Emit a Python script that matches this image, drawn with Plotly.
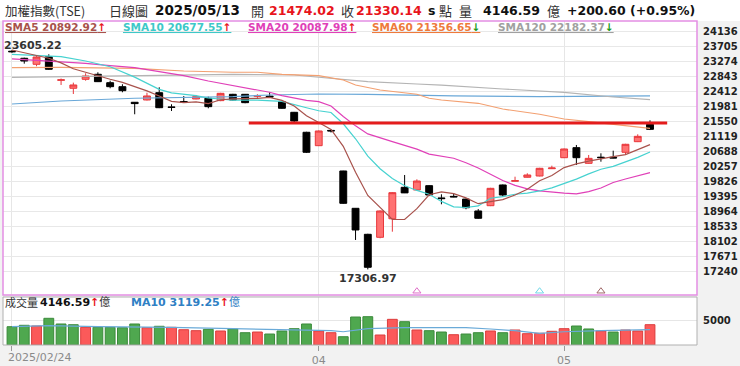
import plotly.graph_objects as go

W, H = 740, 366
FONT = "DejaVu Sans, Noto Sans CJK TC, sans-serif"
CJK = "Noto Sans CJK TC, sans-serif"

# ---------------- data ----------------
TICK_IDX = [0, 25, 45]
TICK_TEXT = ["2025/02/24", "04", "05"]

OPEN = [23575, 23372, 23199, 23418, 22740, 22510, 22768, 22912, 22671, 22556,
        22108, 22174, 22383, 21975, 22130, 22203, 22223, 22155, 22337, 22337,
        22280, 22285, 22125, 21820, 21246, 20861, 21300, 20134, 19062, 18315,
        18229, 18761, 19665, 19588, 19712, 19360, 19405, 19327, 18985, 19137,
        19732, 19840, 19953, 19990, 20200, 20516, 20804, 20354, 20530, 20528,
        20671, 20976, 21474.02]
HIGH = [23605.22, 23390, 23447, 23487, 22790, 22672, 22941, 22970, 22728, 22625,
        22115, 22383, 22539, 22050, 22289, 22318, 22270, 22380, 22350, 22345,
        22340, 22395, 22140, 21830, 21260, 21298, 21330, 20140, 19070, 18330,
        19000, 19525, 20019, 19895, 19725, 19464, 19494, 19340, 19040, 19650,
        19745, 19970, 20068, 20225, 20286, 20780, 20881, 20594, 20642, 20717,
        20915, 21188, 21590]
LOW = [23530, 23217, 23142, 23040, 22605, 22346, 22728, 22690, 22510, 22395,
       21763, 22160, 21940, 21858, 22100, 22195, 21935, 22140, 22160, 22080,
       22230, 22250, 21920, 21533, 20650, 20850, 21240, 19190, 18152, 17306.97,
       18200, 18390, 19500, 19580, 19430, 19177, 19380, 19034, 18760, 19125,
       19397, 19835, 19945, 19980, 20190, 20505, 20306, 20340, 20401, 20500,
       20594, 20965, 21310]
CLOSE = [23560, 23294, 23409, 23056, 22752, 22605, 22863, 22700, 22556, 22441,
         22070, 22289, 21952, 21960, 22115, 22270, 21982, 22365, 22174, 22097,
         22295, 22260, 21935, 21570, 20671, 21283, 21285, 19205, 18439, 17367,
         18985, 19511, 19505, 19846, 19444, 19340, 19390, 19078, 18775, 19636,
         19444, 19855, 20019, 20211, 20220, 20766, 20516, 20497, 20518, 20508,
         20901, 21129.54, 21330.14]
PREV_CLOSE = 23600  # close of the day before the first candle

VOLUME = [3735, 4020, 3880, 5450, 4290, 4140, 3610, 3610, 3610, 3530,
          4290, 3530, 3820, 3610, 3120, 2920, 3200, 2860, 3270, 2510,
          2650, 2240, 2860, 3330, 4290, 2860, 2510, 1690, 5710, 5780,
          2040, 5240, 4760, 3060, 2920, 2650, 2100, 2240, 2510, 2860,
          2510, 3060, 2310, 2390, 2800, 3330, 3880, 3270, 2860, 2650,
          3060, 2860, 4146.59]

VMA10_X = [0, 3, 7, 11, 13, 18, 21, 23, 26, 27, 29, 32, 35, 37, 39, 41, 43, 45, 48, 52]
VMA10_V = [3735, 3940, 3735, 3735, 3610, 3330, 3200, 3060, 2920, 2710, 3340, 3530,
           3530, 3530, 3270, 2920, 2390, 2710, 2920, 3119.25]

SMA5_X = [0, 3, 4, 5, 6, 7, 8, 9, 10, 11, 12, 13, 14, 15, 16, 17, 18, 19, 20, 21,
          22, 23, 24, 25, 26, 27, 28, 29, 30, 31, 32, 33, 34, 35, 36, 37, 38, 39,
          40, 41, 42, 43, 44, 45, 46, 47, 48, 49, 50, 51, 52]
SMA5_V = [23610, 23372, 23240, 23070, 22970, 22860, 22770, 22680, 22565, 22436,
          22290, 22135, 22100, 22120, 22068, 22180, 22205, 22210, 22220, 22250,
          22163, 22000, 21720, 21524, 21330, 20842, 20100, 19430, 19080, 18740,
          18745, 19052, 19450, 19534, 19485, 19360, 19195, 19248, 19310, 19445,
          19610, 19854, 20006, 20232, 20340, 20417, 20491, 20544, 20605, 20738,
          20892.92]

SMA10_X = [0, 4, 6, 8, 10, 11, 12, 13, 15, 16, 18, 20, 21, 22, 24, 25, 26, 27, 28,
           29, 30, 31, 32, 33, 34, 35, 36, 37, 38, 39, 40, 41, 42, 43, 44, 45, 46,
           47, 48, 49, 50, 51, 52]
SMA10_V = [23487, 23418, 23294, 23130, 22830, 22650, 22480, 22380, 22300, 22230,
           22170, 22170, 22150, 22135, 21950, 21865, 21815, 21490, 21060, 20560,
           20200, 19920, 19710, 19575, 19465, 19260, 19105, 19085, 19130, 19350,
           19396, 19465, 19500, 19560, 19650, 19775, 19900, 20050, 20185, 20267,
           20396, 20525, 20677.55]

SMA20_X = [0, 3, 6, 8, 10, 12, 14, 16, 18, 20, 21, 22, 24, 25, 26, 27, 28, 29, 31,
           33, 34, 35, 36, 37, 38, 39, 40, 41, 42, 43, 44, 45, 46, 47, 48, 49, 50,
           51, 52]
SMA20_V = [23352, 23294, 23228, 23159, 23102, 22987, 22872, 22720, 22600, 22460,
           22395, 22300, 22160, 22125, 22000, 21700, 21430, 21200, 20976, 20760,
           20620, 20570, 20499, 20370, 20220, 20040, 19860, 19720, 19620, 19560,
           19520, 19495, 19478, 19542, 19646, 19803, 19904, 19990, 20087.98]

SMA60_X = [0, 4, 10, 14, 18, 20, 22, 25, 27, 28, 30, 33, 34, 35, 38, 40, 43, 45, 47,
           49, 51, 52]
SMA60_V = [23102, 23113, 23084, 23007, 22970, 22970, 22912, 22872, 22748, 22605,
           22461, 22338, 22223, 22174, 22079, 21915, 21763, 21628, 21550, 21476,
           21407, 21356.65]

SMA120_X = [0, 4, 10, 18, 23, 26, 29, 33, 35, 40, 45, 49, 52]
SMA120_V = [22826, 22843, 22872, 22912, 22892, 22797, 22700, 22633, 22600, 22490,
            22395, 22260, 22182.37]

LONG_X = [0, 4, 10, 18, 21, 25, 29, 36, 43, 52]
LONG_V = [22059, 22145, 22223, 22269, 22317, 22346, 22337, 22289, 22269, 22289]

SIGNAL_X = [33, 43, 48]
SIGNAL_Y = [16680, 16680, 16680]
SIGNAL_COLORS = ["#e070c8", "#70d8e8", "#a06868"]

RESIST_X = [19.3, 53.4]
RESIST_Y = 21515

YTICKS = [17240, 17671, 18102, 18533, 18964, 19395, 19826, 20257, 20688, 21119,
          21550, 21981, 22412, 22843, 23274, 23705, 24136]

CHANGE = 200.60
CHANGE_PCT = 0.95
VOL_MA10_LAST = 3119.25

# ---------------- styling ----------------
RED = "#e8141c"
GREEN_ARROW = "#1a9a1a"
C_SMA5, C_SMA10, C_SMA20 = "#a8524c", "#46d2d0", "#e040b8"
C_SMA60, C_SMA120, C_LONG = "#f3a071", "#b4b4b4", "#6aa8d8"

XD = [3 / W, 697 / W]
YD_MAIN = [1 - 295 / H, 1 - 21 / H]
YD_VOL = [1 - 345 / H, 1 - 297 / H]

idx = list(range(len(CLOSE)))
fig = go.Figure()

# moving averages (behind candles)
for xs, vs, col in [(LONG_X, LONG_V, C_LONG), (SMA120_X, SMA120_V, C_SMA120),
                    (SMA60_X, SMA60_V, C_SMA60), (SMA20_X, SMA20_V, C_SMA20),
                    (SMA10_X, SMA10_V, C_SMA10), (SMA5_X, SMA5_V, C_SMA5)]:
    fig.add_trace(go.Scatter(x=xs, y=vs, mode="lines", line=dict(color=col, width=1.2),
                             xaxis="x", yaxis="y", hoverinfo="skip", showlegend=False))

fig.add_trace(go.Candlestick(
    x=idx, open=OPEN, high=HIGH, low=LOW, close=CLOSE, xaxis="x", yaxis="y",
    increasing=dict(line=dict(color="#e8383c", width=1), fillcolor="#ff7272"),
    decreasing=dict(line=dict(color="#000000", width=1), fillcolor="#000000"),
    whiskerwidth=0, showlegend=False))

fig.add_trace(go.Scatter(x=SIGNAL_X, y=SIGNAL_Y, mode="markers", xaxis="x", yaxis="y",
                         marker=dict(symbol="triangle-up-open", size=7,
                                     color=SIGNAL_COLORS, line=dict(width=1, color=SIGNAL_COLORS)),
                         showlegend=False, hoverinfo="skip"))

# volume
prev = [PREV_CLOSE] + CLOSE[:-1]
vcol = ["#fb5a5a" if c > p else "#4fa84f" for c, p in zip(CLOSE, prev)]
vline = ["#dc3c3c" if c > p else "#3a8a3a" for c, p in zip(CLOSE, prev)]
fig.add_trace(go.Bar(x=idx, y=VOLUME, xaxis="x2", yaxis="y2", width=0.8,
                     marker=dict(color=vcol, line=dict(color=vline, width=1)),
                     showlegend=False))
fig.add_trace(go.Scatter(x=VMA10_X, y=VMA10_V, mode="lines", xaxis="x2", yaxis="y2",
                         line=dict(color="#6aaad8", width=1.2), showlegend=False))

# ---------------- layout ----------------
shapes = [
    dict(type="rect", xref="paper", yref="paper", x0=0, x1=1, y0=1 - 21 / H, y1=1,
         fillcolor="white", line=dict(width=0), layer="below"),
    dict(type="line", xref="x", yref="y", x0=RESIST_X[0], x1=RESIST_X[1],
         y0=RESIST_Y, y1=RESIST_Y, line=dict(color="#e41c1c", width=3), layer="above"),
    dict(type="rect", xref="paper", yref="paper", x0=XD[0], x1=XD[1], y0=YD_VOL[0], y1=YD_VOL[1],
         line=dict(color="#b0b0b0", width=1), layer="above"),
    dict(type="rect", xref="paper", yref="paper", x0=XD[0], x1=XD[1], y0=YD_MAIN[0], y1=YD_MAIN[1],
         line=dict(color="#e48ee4", width=1.5), layer="above"),
]


def txt(x, y, s, size, color, family=FONT, xanchor="left"):
    return dict(x=x / W, y=1 - y / H, xref="paper", yref="paper", text=s, showarrow=False,
                xanchor=xanchor, yanchor="middle", font=dict(family=family, size=size, color=color))


up = "<b>↑</b>"
dn = "<b>↓</b>"


def arrow(last, before):
    return (f"<span style='color:{RED}'>{up}</span>" if last >= before
            else f"<span style='color:{GREEN_ARROW}'>{dn}</span>")


ann = [
    txt(3, 10, "加權指數(TSE)", 12.5, "#333", CJK),
    txt(107, 10, "日線圖", 13, "#333", CJK),
    txt(153, 10, "<b>2025/05/13</b>", 13.5, "#111"),
    txt(249, 10, "開", 13, "#333", CJK),
    txt(267, 10, f"<b>{OPEN[-1]:.2f}</b>", 12.5, RED),
    txt(339, 10, "收", 13, "#333", CJK),
    txt(354, 10, f"<b>{CLOSE[-1]:.2f}</b>", 12.5, RED),
    txt(426, 10, "<b>s</b>", 12.5, "#111"),
    txt(437, 10, "點", 13, "#333", CJK),
    txt(457, 10, "量", 13, "#333", CJK),
    txt(481, 10, f"<b>{VOLUME[-1]:.2f}</b>", 12.5, "#111"),
    txt(545, 10, "億", 13, "#333", CJK),
    txt(565, 10, f"<b>+{CHANGE:.2f} (+{CHANGE_PCT:.2f}%)</b>", 12.5, "#111"),
    txt(3, 27, f"<u><b>SMA5 {SMA5_V[-1]:.2f}</b>{arrow(SMA5_V[-1], SMA5_V[-2])}</u>", 10.5, C_SMA5),
    txt(121, 27, f"<u><b>SMA10 {SMA10_V[-1]:.2f}</b>{arrow(SMA10_V[-1], SMA10_V[-2])}</u>", 10.5, "#3ec8c8"),
    txt(246, 27, f"<u><b>SMA20 {SMA20_V[-1]:.2f}</b>{arrow(SMA20_V[-1], SMA20_V[-2])}</u>", 10.5, C_SMA20),
    txt(370, 27, f"<u><b>SMA60 {SMA60_V[-1]:.2f}</b>{arrow(SMA60_V[-1], SMA60_V[-2])}</u>", 10.5, "#ee7a3c"),
    txt(496, 27, f"<u><b>SMA120 {SMA120_V[-1]:.2f}</b>{arrow(SMA120_V[-1], SMA120_V[-2])}</u>", 10.5, "#a0a0a0"),
    txt(3, 302, "成交量", 11, "#333", CJK),
    txt(38, 302, f"<b>{VOLUME[-1]:.2f}</b>{arrow(VOLUME[-1], VOLUME[-2])}<span style='color:#333'>億</span>", 11, "#111"),
    txt(129, 302, f"<b>MA10 {VOL_MA10_LAST:.2f}</b>{arrow(VOL_MA10_LAST, VMA10_V[-2])}億", 11, "#2f80c4"),
    txt(6, 357, TICK_TEXT[0], 11, "#8a8a8a"),
]
hi_i = HIGH.index(max(HIGH))
lo_i = LOW.index(min(LOW))
ann.append(dict(x=hi_i, y=HIGH[hi_i], xref="x", yref="y", text=f"<b>{HIGH[hi_i]:.2f}</b>",
                showarrow=False, xanchor="left", yanchor="middle", xshift=-10, yshift=5,
                font=dict(family=FONT, size=11, color="#333")))
ann.append(dict(x=lo_i, y=LOW[lo_i], xref="x", yref="y", text=f"<b>{LOW[lo_i]:.2f}</b>",
                showarrow=False, xanchor="center", yanchor="top", yshift=-1,
                font=dict(family=FONT, size=11, color="#333")))

fig.update_layout(
    width=W, height=H, autosize=False, margin=dict(l=0, r=0, t=0, b=0),
    paper_bgcolor="#f2f2f2", plot_bgcolor="white", boxgap=0.2, bargap=0.2,
    showlegend=False, shapes=shapes, annotations=ann,
    xaxis=dict(domain=XD, range=[-0.733, 55.83], tickvals=TICK_IDX, showticklabels=False,
               showgrid=True, gridcolor="#e6e6e6", zeroline=False, rangeslider=dict(visible=False),
               fixedrange=True, anchor="y"),
    yaxis=dict(domain=YD_MAIN, range=[16571, 24443], side="right", tickvals=YTICKS,
               ticktext=[str(v) for v in YTICKS], showgrid=True, gridcolor="#e8e8e8",
               zeroline=False, ticks="outside", ticklen=3, tickcolor="rgba(0,0,0,0)",
               tickfont=dict(family=FONT, size=10, color="#222", weight="bold"), anchor="x"),
    xaxis2=dict(domain=XD, matches="x", range=[-0.733, 55.83], tickvals=TICK_IDX,
                ticktext=[""] + TICK_TEXT[1:], ticks="outside", ticklen=5, tickcolor="#999",
                showgrid=True, gridcolor="#e6e6e6", zeroline=False, anchor="y2",
                tickfont=dict(family=FONT, size=11, color="#8a8a8a")),
    yaxis2=dict(domain=YD_VOL, range=[0, 9800], side="right", tickvals=[5000], ticktext=["5000"],
                showgrid=True, gridcolor="#e6e6e6", zeroline=False, ticks="outside", ticklen=3,
                tickcolor="rgba(0,0,0,0)", anchor="x2",
                tickfont=dict(family=FONT, size=10, color="#222", weight="bold")),
)

fig.write_html("out.html")
